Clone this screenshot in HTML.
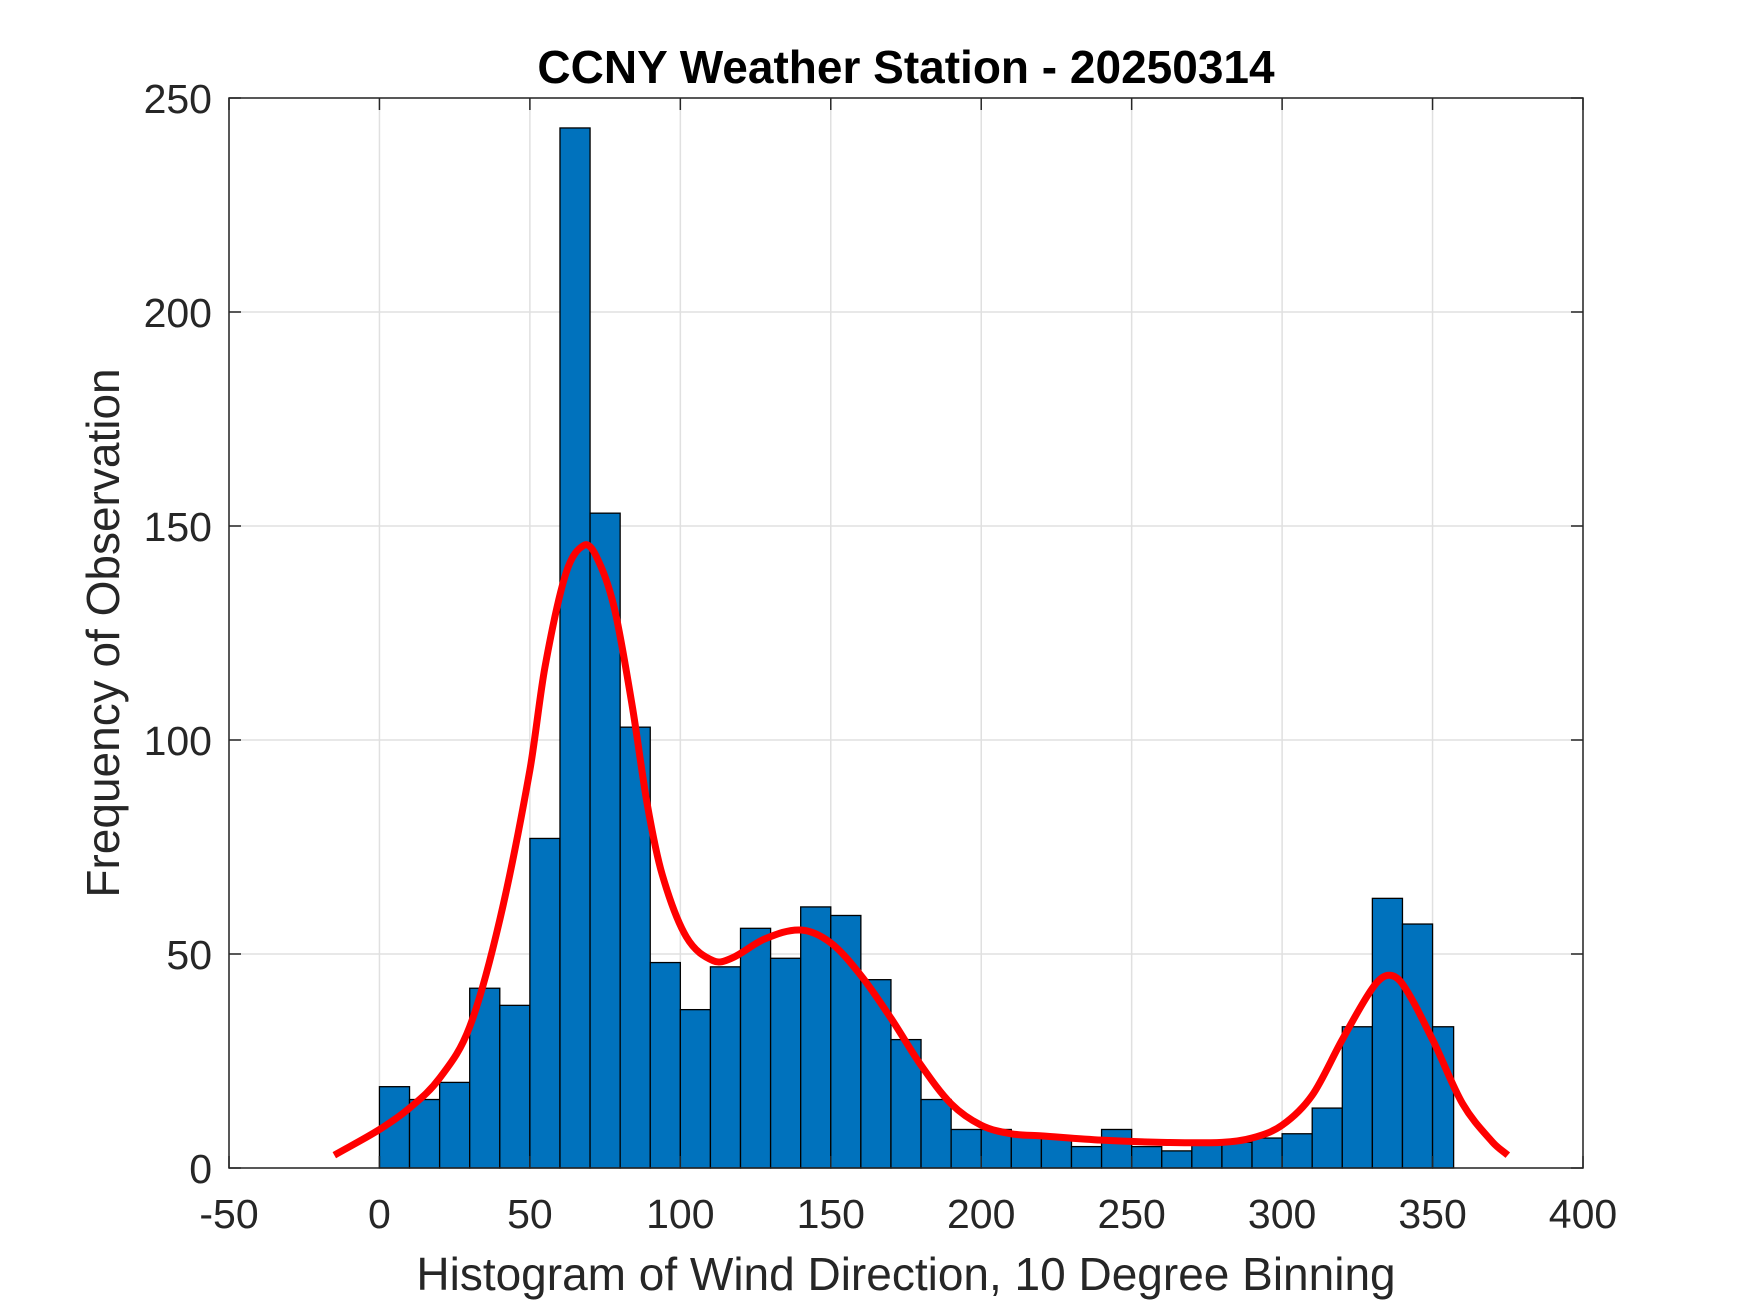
<!DOCTYPE html>
<html><head><meta charset="utf-8"><style>
html,body{margin:0;padding:0;background:#fff;}
svg{display:block;font-family:"Liberation Sans",Arial,sans-serif;}
</style></head><body>
<svg id="chart" width="1750" height="1313" viewBox="0 0 1750 1313" xmlns="http://www.w3.org/2000/svg">
<rect width="1750" height="1313" fill="#fff"/>
<g id="grid"></g><g id="bars"></g><g id="curve"></g><g id="axes"></g>
<text x="906" y="83" text-anchor="middle" font-size="46" font-weight="bold" fill="#000">CCNY Weather Station - 20250314</text>
<text x="906" y="1290" text-anchor="middle" font-size="46" fill="#262626">Histogram of Wind Direction, 10 Degree Binning</text>
<text transform="translate(119,633) rotate(-90)" text-anchor="middle" font-size="46" fill="#262626">Frequency of Observation</text>
</svg>
<script>
const binStarts=[0,10,20,30,40,50,60,70,80,90,100,110,120,130,140,150,160,170,180,190,200,210,220,230,240,250,260,270,280,290,300,310,320,330,340,350];
const binCounts=[19,16,20,42,38,77,243,153,103,48,37,47,56,49,61,59,44,30,16,9,9,8,7,5,9,5,4,6,6,7,8,14,33,63,57,33];
const curveX=[-15,0,10,20,30,40,50,55,62,68,72,78,84,89,94,102,111,117,128,140,150,160,170,180,190,200,210,220,240,260,280,290,300,310,320,330,335,340,350,360,370,375];
const curveY=[3,9,14,21,33,58,93,117,139,145.5,143,131,108,85,68.5,54,48.4,49,53.5,55.6,52.6,45,35,24,15,10,8,7.5,6.5,6,6,7,10,17,30,42,45,43,30,15,6,3];
const xTicks=[-50,0,50,100,150,200,250,300,350,400];
const yTicks=[0,50,100,150,200,250];
const L=229,R=1583,T=98,B=1168;
const xs=v=>L+(v+50)/450*(R-L);
const ys=v=>B-v/250*(B-T);
const NS="http://www.w3.org/2000/svg";
function mk(tag,parent,attrs){const e=document.createElementNS(NS,tag);for(const k in attrs)e.setAttribute(k,attrs[k]);parent.appendChild(e);return e;}
const grid=document.getElementById('grid'),bars=document.getElementById('bars'),curve=document.getElementById('curve'),axes=document.getElementById('axes');
xTicks.forEach(t=>{const g=mk('line',grid,{x1:xs(t),x2:xs(t),y1:T,y2:B,stroke:'#e0e0e0','stroke-width':1.5});
});
yTicks.forEach(t=>{const g=mk('line',grid,{x1:L,x2:R,y1:ys(t),y2:ys(t),stroke:'#e0e0e0','stroke-width':1.5});
});
binStarts.forEach((s,i)=>{const x0=xs(s),x1=xs(Math.min(s+10,357)),y=ys(binCounts[i]);
const r=mk('rect',bars,{x:x0,y:y,width:x1-x0,height:B-y,fill:'#0072BD',stroke:'#000','stroke-width':1.3});
});
// Hermite spline with data-space tangents
const n=curveX.length,m=[];
for(let i=0;i<n;i++){const a=Math.max(i-1,0),b=Math.min(i+1,n-1);m.push((curveY[b]-curveY[a])/(curveX[b]-curveX[a]));}
let d='M'+xs(curveX[0])+','+ys(curveY[0]);
for(let i=0;i<n-1;i++){const h=(curveX[i+1]-curveX[i])/3;
d+=' C'+xs(curveX[i]+h)+','+ys(curveY[i]+m[i]*h)+' '+xs(curveX[i+1]-h)+','+ys(curveY[i+1]-m[i+1]*h)+' '+xs(curveX[i+1])+','+ys(curveY[i+1]);}
const c=mk('path',curve,{d:d,fill:'none',stroke:'#ff0000','stroke-width':7,'stroke-linejoin':'round'});

const box=mk('rect',axes,{x:L,y:T,width:R-L,height:B-T,fill:'none',stroke:'#262626','stroke-width':1.5});

xTicks.forEach(t=>{mk('line',axes,{x1:xs(t),x2:xs(t),y1:B,y2:B-12,stroke:'#262626','stroke-width':1.5});
mk('line',axes,{x1:xs(t),x2:xs(t),y1:T,y2:T+12,stroke:'#262626','stroke-width':1.5});
const tx=mk('text',axes,{x:xs(t),y:B+60,'text-anchor':'middle','font-size':41,fill:'#262626'});tx.textContent=t;
});
yTicks.forEach(t=>{mk('line',axes,{x1:L,x2:L+12,y1:ys(t),y2:ys(t),stroke:'#262626','stroke-width':1.5});
mk('line',axes,{x1:R,x2:R-12,y1:ys(t),y2:ys(t),stroke:'#262626','stroke-width':1.5});
const tx=mk('text',axes,{x:L-17,y:ys(t)+15,'text-anchor':'end','font-size':41,fill:'#262626'});tx.textContent=t;
});
</script>
</body></html>
